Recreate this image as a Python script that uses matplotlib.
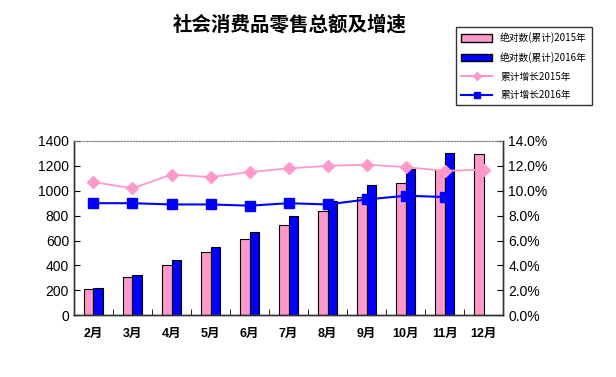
import matplotlib
matplotlib.use("Agg")
import matplotlib.pyplot as plt
import numpy as np
from matplotlib.patches import Patch
from matplotlib.lines import Line2D

plt.rcParams['font.family'] = ['Liberation Sans', 'Noto Sans CJK SC', 'DejaVu Sans']

months = ["2月", "3月", "4月", "5月", "6月", "7月", "8月", "9月", "10月", "11月", "12月"]
abs2015 = [210, 305, 400, 505, 610, 725, 840, 950, 1060, 1170, 1295]
abs2016 = [220, 325, 440, 550, 670, 795, 915, 1045, 1175, 1300]
rate2015 = [10.7, 10.2, 11.3, 11.1, 11.5, 11.8, 12.0, 12.1, 11.9, 11.6, 11.7]
rate2016 = [9.0, 9.0, 8.9, 8.9, 8.8, 9.0, 8.9, 9.3, 9.6, 9.5]

pink = '#FF99CC'
blue = '#0000FF'

fig = plt.figure(figsize=(6.16, 3.77), dpi=100)
ax = fig.add_axes([0.120, 0.164, 0.697, 0.462])
ax2 = ax.twinx()

x = np.arange(len(months))
x16 = np.arange(len(abs2016))
w = 0.25
ax.bar(x - w / 2, abs2015, w, color=pink, edgecolor='black', linewidth=0.8, zorder=2)
ax.bar(x16 + w / 2, abs2016, w, color=blue, edgecolor='black', linewidth=0.8, zorder=2)

ax2.plot(x, rate2015, color=pink, marker='D', markersize=6.5, linewidth=1.3, zorder=3)
ax2.plot(x16, rate2016, color=blue, marker='s', markersize=7.5, linewidth=1.5, zorder=3)

ax.set_xlim(-0.5, len(months) - 0.5)
ax.set_ylim(0, 1400)
ax.set_yticks(range(0, 1401, 200))
ax2.set_ylim(0, 14)
ax2.set_yticks(np.arange(0, 14.1, 2))
ax2.set_yticklabels([f"{v:.1f}%" for v in np.arange(0, 14.1, 2)])

ax.set_xticks(x)
ax.set_xticklabels(months, fontweight='bold', fontsize=9)
ax.set_xticks(np.arange(-0.5, len(months), 1), minor=True)
ax.tick_params(axis='x', which='major', length=0, pad=9)
ax.tick_params(axis='x', which='minor', length=4, direction='in')
ax.tick_params(axis='y', direction='in', length=4, labelsize=10)
ax2.tick_params(axis='y', direction='in', length=4, labelsize=10)

for a in (ax, ax2):
    a.spines['top'].set_color('#888888')
    a.spines['top'].set_linestyle(':')
    for s in ('left', 'right', 'bottom'):
        a.spines[s].set_color('#333333')
        a.spines[s].set_linewidth(1.0)
ax.set_zorder(1)
ax.patch.set_visible(False)
ax2.set_zorder(2)

fig.text(0.47, 0.935, "社会消费品零售总额及增速", ha='center', va='center',
         fontsize=14, fontweight='bold', family=['Noto Sans CJK SC'])

handles = [
    Patch(facecolor=pink, edgecolor='black', label='绝对数(累计)2015年'),
    Patch(facecolor=blue, edgecolor='black', label='绝对数(累计)2016年'),
    Line2D([0], [0], color=pink, marker='D', markersize=4, label='累计增长2015年'),
    Line2D([0], [0], color=blue, marker='s', markersize=5, label='累计增长2016年'),
]
leg = fig.legend(handles=handles, loc='upper left', bbox_to_anchor=(0.733, 0.94),
                 frameon=True, fancybox=False, edgecolor='black',
                 handlelength=3.2, handleheight=0.8, borderpad=0.5, labelspacing=0.9,
                 prop={'family': ['Noto Sans CJK SC'], 'size': 7})
leg.get_frame().set_linewidth(1.0)

fig.savefig("out.png", dpi=100)
